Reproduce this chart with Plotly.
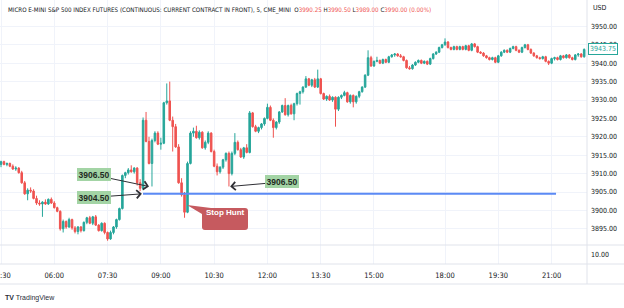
import plotly.graph_objects as go

# ---------------- data ----------------
session_a = [f"{m // 60:02d}:{m % 60:02d}" for m in range(4 * 60 + 30, 17 * 60, 5)]
session_b = [f"{m // 60:02d}:{m % 60:02d}" for m in range(18 * 60, 22 * 60, 5)]
times = session_a + session_b

opens = [
    3912.5, 3913.25, 3912.5, 3912.75, 3912, 3911.25, 3911.5, 3910.25, 3907.5, 3904.5,
    3905.5, 3905.25, 3903.25, 3902, 3901.75, 3902.25, 3901.75, 3903, 3902, 3900.75,
    3899.75, 3895, 3897, 3895.5, 3897.5, 3895.25, 3894.25, 3895.5, 3894.5, 3896.75,
    3898, 3896.5, 3898.25, 3896, 3894.5, 3896.5, 3894, 3892.25, 3894, 3895.5,
    3897.5, 3900.5, 3909.5, 3910.25, 3911, 3910.5, 3911.5, 3907.5, 3906, 3924.5,
    3918.75, 3912.75, 3919, 3921, 3918, 3918.25, 3929.25, 3929.75, 3924.5, 3922.75,
    3917.25, 3907.5, 3904.25, 3899.5, 3912.75, 3921, 3921.5, 3919.75, 3921.25, 3917,
    3918.5, 3921, 3916, 3912, 3910.5, 3911.75, 3913.75, 3915.5, 3910, 3915.5,
    3918.5, 3916.5, 3914.5, 3917, 3915.75, 3926.5, 3922.75, 3921.5, 3922.5, 3923.5,
    3925, 3928, 3924.5, 3922.5, 3924, 3926.75, 3928.5, 3926, 3928.5, 3926.25,
    3929, 3931.75, 3932.25, 3933.5, 3935.75, 3934, 3935.5, 3933.5, 3935.75, 3931.75,
    3930.25, 3931, 3930, 3930.75, 3927.5, 3930.75, 3931.25, 3932, 3929.5, 3931.25,
    3929.5, 3931, 3932.25, 3933.5, 3936.75, 3941.5, 3939.25, 3940.5, 3940.75, 3940,
    3941, 3940.25, 3941.75, 3942.25, 3942.5, 3942, 3941.75, 3940.75, 3938.75, 3938.5,
    3939.5, 3940.25, 3940.75, 3940, 3940.5, 3939.75, 3941.25, 3942.5, 3943, 3944.25,
    3945, 3945.75, 3944.25, 3943.75, 3944.5, 3943.75, 3944.5, 3943.75, 3944.75, 3943.5,
    3945.25, 3944.5, 3943, 3942.75, 3942, 3941.5, 3941, 3941.5, 3940.25, 3942,
    3943, 3943.5, 3943, 3944, 3944.5, 3943.5, 3943, 3944.25, 3945, 3943.75,
    3942.75, 3942, 3941.5, 3941.25, 3941.75, 3940.5, 3940, 3941.25, 3941.5, 3941,
    3942, 3941.5, 3942.25, 3941.5, 3941, 3942.25, 3942.5, 3941.75,
]
highs = [
    3913.5, 3913.5, 3913, 3913, 3912.5, 3912, 3911.75, 3910.75, 3908, 3906,
    3906.25, 3905.75, 3904, 3902.75, 3902.5, 3903, 3903.25, 3903.5, 3902.5, 3901,
    3900, 3897.5, 3897.25, 3898, 3897.75, 3895.75, 3895.75, 3895.75, 3897, 3898.25,
    3898.5, 3898.5, 3898.75, 3896.25, 3896.75, 3896.75, 3894.25, 3894.5, 3895.75, 3897.75,
    3900.75, 3909.75, 3910.5, 3911.5, 3912.25, 3911.75, 3911.75, 3908.5, 3925.25, 3926.75,
    3920, 3919.5, 3921.5, 3921.5, 3919.75, 3929.5, 3934.5, 3935, 3925.5, 3923.5,
    3918, 3908.75, 3905, 3913.25, 3921.5, 3922.5, 3923, 3921.75, 3921.5, 3919,
    3921.5, 3921.25, 3916.5, 3912.75, 3912, 3914, 3915.75, 3916, 3916, 3921,
    3919, 3917, 3917.25, 3918, 3927, 3926.75, 3923.25, 3922.75, 3923.75, 3925.25,
    3929, 3928.5, 3925, 3924.25, 3927, 3928.75, 3930.5, 3928.75, 3929, 3929.25,
    3932, 3932.5, 3933.75, 3936.5, 3936, 3935.75, 3936, 3938.25, 3936, 3932,
    3931.25, 3931.5, 3931, 3931, 3931, 3931.5, 3932.5, 3932.25, 3931.5, 3931.5,
    3931.25, 3932.5, 3933.75, 3937, 3943.5, 3942, 3940.75, 3941.75, 3941, 3941.25,
    3941.25, 3942, 3942.5, 3942.75, 3942.75, 3942.5, 3942, 3941, 3939.25, 3939.75,
    3940.5, 3941, 3941, 3940.75, 3940.75, 3941.5, 3942.75, 3943.25, 3944.5, 3945.25,
    3946.75, 3946, 3944.5, 3944.75, 3944.75, 3944.75, 3944.75, 3945, 3945, 3945.5,
    3945.5, 3944.75, 3943.25, 3943, 3942.25, 3941.75, 3941.75, 3941.75, 3942.25, 3943.25,
    3943.75, 3943.75, 3944.25, 3944.75, 3944.75, 3943.75, 3944.5, 3945.25, 3945.25, 3944,
    3943, 3942.25, 3941.75, 3942, 3942, 3940.75, 3941.5, 3941.75, 3941.75, 3942.25,
    3942.25, 3942.5, 3942.5, 3941.75, 3942.5, 3942.75, 3942.75, 3944,
]
lows = [
    3911.75, 3912.25, 3912, 3911.75, 3911, 3910.75, 3910, 3907.25, 3904.25, 3902.75,
    3904.75, 3903, 3901.5, 3901.25, 3898.25, 3901.5, 3901.5, 3901.75, 3900.5, 3899.5,
    3894.5, 3894, 3895, 3895.25, 3894.75, 3893.75, 3893.5, 3894, 3894.25, 3896.25,
    3896.25, 3896, 3895.75, 3894.25, 3894.25, 3893.5, 3891.75, 3892, 3893.5, 3895,
    3897.25, 3900.25, 3908.75, 3909.75, 3910.25, 3910, 3906.75, 3905.25, 3905.5, 3918.5,
    3912.5, 3906.5, 3918.5, 3917.75, 3916.5, 3918, 3928.75, 3924.25, 3916, 3917,
    3907.25, 3903.75, 3898, 3899.25, 3912.5, 3920, 3919.5, 3919.25, 3916.75, 3916.5,
    3918, 3915.75, 3911.75, 3909.5, 3910, 3911.25, 3913.25, 3906.5, 3909.5, 3915,
    3916.25, 3914.25, 3914, 3915.5, 3915.5, 3922.5, 3921.25, 3921, 3922, 3923,
    3924.75, 3924.25, 3919.75, 3922, 3923.5, 3926.5, 3925.75, 3925.5, 3926, 3924.5,
    3928.5, 3928.75, 3931.75, 3933.25, 3933.75, 3933.5, 3933.25, 3933.25, 3931.5, 3930,
    3929.75, 3929.75, 3929.5, 3922.75, 3927, 3930.25, 3931, 3929.25, 3929, 3928,
    3929, 3930.5, 3932, 3933.25, 3936.5, 3939, 3939, 3940.25, 3939.75, 3939.75,
    3940, 3940, 3941.5, 3941.75, 3941.75, 3941.5, 3940.5, 3938.5, 3938.25, 3938.25,
    3939.25, 3940, 3939.75, 3939.75, 3939.5, 3939.5, 3941, 3942.25, 3942.75, 3944,
    3944.75, 3944, 3943.5, 3943.5, 3943.5, 3943.5, 3943.5, 3943.5, 3943.25, 3943.25,
    3944.25, 3942.75, 3942.5, 3941.75, 3941.25, 3940.75, 3940.75, 3940, 3940, 3941.75,
    3942.75, 3942.75, 3942.75, 3943.75, 3943.25, 3942.75, 3942.75, 3944, 3943.5, 3942.5,
    3941.75, 3941.25, 3941, 3941, 3940.25, 3939.5, 3939.75, 3940.75, 3940.75, 3940.75,
    3941.25, 3941.25, 3941.25, 3940.75, 3940.75, 3941.75, 3941.5, 3941.5,
]
closes = [
    3913.25, 3912.5, 3912.75, 3912, 3911.25, 3911.5, 3910.25, 3907.5, 3904.5, 3905.5,
    3905.25, 3903.25, 3902, 3901.75, 3902.25, 3901.75, 3903, 3902, 3900.75, 3899.75,
    3895, 3897, 3895.5, 3897.5, 3895.25, 3894.25, 3895.5, 3894.5, 3896.75, 3898,
    3896.5, 3898.25, 3896, 3894.5, 3896.5, 3894, 3892.25, 3894, 3895.5, 3897.5,
    3900.5, 3909.5, 3910.25, 3911, 3910.5, 3911.5, 3907.5, 3906, 3924.5, 3918.75,
    3912.75, 3919, 3921, 3918, 3918.25, 3929.25, 3929.75, 3924.5, 3922.75, 3917.25,
    3907.5, 3904.25, 3899.5, 3912.75, 3921, 3921.5, 3919.75, 3921.25, 3917, 3918.5,
    3921, 3916, 3912, 3910.5, 3911.75, 3913.75, 3915.5, 3910, 3915.5, 3918.5,
    3916.5, 3914.5, 3917, 3915.75, 3926.5, 3922.75, 3921.5, 3922.5, 3923.5, 3925,
    3928, 3924.5, 3922.5, 3924, 3926.75, 3928.5, 3926, 3928.5, 3926.25, 3929,
    3931.75, 3932.25, 3933.5, 3935.75, 3934, 3935.5, 3933.5, 3935.75, 3931.75, 3930.25,
    3931, 3930, 3930.75, 3927.5, 3930.75, 3931.25, 3932, 3929.5, 3931.25, 3929.5,
    3931, 3932.25, 3933.5, 3936.75, 3941.5, 3939.25, 3940.5, 3940.75, 3940, 3941,
    3940.25, 3941.75, 3942.25, 3942.5, 3942, 3941.75, 3940.75, 3938.75, 3938.5, 3939.5,
    3940.25, 3940.75, 3940, 3940.5, 3939.75, 3941.25, 3942.5, 3943, 3944.25, 3945,
    3945.75, 3944.25, 3943.75, 3944.5, 3943.75, 3944.5, 3943.75, 3944.75, 3943.5, 3945.25,
    3944.5, 3943, 3942.75, 3942, 3941.5, 3941, 3941.5, 3940.25, 3942, 3943,
    3943.5, 3943, 3944, 3944.5, 3943.5, 3943, 3944.25, 3945, 3943.75, 3942.75,
    3942, 3941.5, 3941.25, 3941.75, 3940.5, 3940, 3941.25, 3941.5, 3941, 3942,
    3941.5, 3942.25, 3941.5, 3941, 3942.25, 3942.5, 3941.75, 3943.75,
]

time_ticks = ["04:30", "06:00", "07:30", "09:00", "10:30", "12:00", "13:30",
              "15:00", "18:00", "19:30", "21:00"]
price_ticks = [3895, 3900, 3905, 3910, 3915, 3920, 3925, 3930, 3935, 3940, 3945, 3950]
level_price = 3904.5
marked_prices = [3906.5, 3904.5, 3906.5]
last_price = 3943.75
title_text = "MICRO E-MINI S&P 500 INDEX FUTURES (CONTINUOUS: CURRENT CONTRACT IN FRONT), 5, CME_MINI"
ohlc_legend = [("O", "3990.25"), ("H", "3990.50"), ("L", "3989.00"), ("C", "3990.00")]
change_text = "(0.00%)"

# ---------------- layout helpers ----------------
W, H = 624, 308
PW, PH = 587, 284          # plot area (margins r=37, b=24)
GREEN, RED = "#26a69a", "#ef5350"
TXT = "#131722"
GRID = "#f0f3fa"
BORDER = "#e0e3eb"
NARROW = "Liberation Sans Narrow, DejaVu Sans Condensed, Arial Narrow, sans-serif"
SANS = "Liberation Sans, Arial, sans-serif"


def xp(px):
    return px / PW


def yp(py):
    return (PH - py) / PH


fig = go.Figure()
fig.add_trace(go.Candlestick(
    x=times, open=opens, high=highs, low=lows, close=closes,
    increasing=dict(line=dict(color=GREEN, width=1), fillcolor=GREEN),
    decreasing=dict(line=dict(color=RED, width=1), fillcolor=RED),
    whiskerwidth=0, showlegend=False, hoverinfo="skip",
))
# empty lower pane (indicator pane)
fig.add_trace(go.Scatter(x=[times[0]], y=[10], yaxis="y2", mode="markers",
                         marker=dict(opacity=0), showlegend=False, hoverinfo="skip"))

fig.update_layout(
    width=W, height=H,
    margin=dict(l=0, r=W - PW, t=0, b=H - PH, autoexpand=False),
    paper_bgcolor="white", plot_bgcolor="white",
    boxgap=0.25,
    xaxis=dict(
        type="category", categoryorder="array", categoryarray=times,
        range=[-0.34, 197.96], anchor="y2", rangeslider=dict(visible=False),
        tickvals=time_ticks, ticktext=time_ticks, ticks="", automargin=False,
        showgrid=True, gridcolor=GRID, gridwidth=1, zeroline=False, showline=False,
        tickfont=dict(family=NARROW, size=7.5, color=TXT), ticklabelstandoff=5,
    ),
    yaxis=dict(
        domain=[yp(245), 1], side="right", anchor="x", automargin=False,
        range=[3905 - 53 / 3.68, 3905 + 192 / 3.68],
        tickvals=price_ticks, ticktext=[f"{v:.2f}" for v in price_ticks], ticks="",
        showgrid=True, gridcolor=GRID, gridwidth=1, zeroline=False, showline=False,
        tickfont=dict(family=NARROW, size=7, color=TXT), ticklabelstandoff=3,
    ),
    yaxis2=dict(
        domain=[yp(264), yp(245)], side="right", anchor="x", range=[0, 20],
        automargin=False,
        tickvals=[10], ticktext=["10.00"], ticks="", showgrid=False, zeroline=False,
        tickfont=dict(family=NARROW, size=7, color=TXT), ticklabelstandoff=3,
    ),
)

shapes = []
# pane borders
for py in (245, 264, 284):
    shapes.append(dict(type="line", xref="paper", yref="paper", x0=0, x1=W / PW,
                       y0=yp(py), y1=yp(py), line=dict(color=BORDER, width=1)))
shapes.append(dict(type="line", xref="paper", yref="paper", x0=1, x1=1, y0=0, y1=1,
                   line=dict(color=BORDER, width=1)))
# horizontal level line
shapes.append(dict(type="line", xref="x", yref="y", x0=47.97, x1=187.5,
                   y0=level_price, y1=level_price, line=dict(color="#5b8af5", width=2)))

# Stop Hunt callout (rounded box with tail)
bx0, bx1, by0, by1, r = 202, 248, 208, 230, 3
pts = [
    ("M", bx0 + r, by0), ("L", bx1 - r, by0), ("Q", bx1, by0, bx1, by0 + r),
    ("L", bx1, by1 - r), ("Q", bx1, by1, bx1 - r, by1), ("L", bx0 + r, by1),
    ("Q", bx0, by1, bx0, by1 - r), ("L", bx0, by0 + 6), ("L", 187, 205),
    ("L", bx0 + 9, by0),
]
path = ""
for p in pts:
    cmd, coords = p[0], p[1:]
    vals = []
    for k in range(0, len(coords), 2):
        vals.append(f"{xp(coords[k]):.5f},{yp(coords[k + 1]):.5f}")
    path += cmd + " ".join(vals) + " "
path += "Z"
shapes.append(dict(type="path", xref="paper", yref="paper", path=path,
                   fillcolor="#c65a5f", line=dict(width=0)))
fig.update_layout(shapes=shapes)

ann = []
# header line
hdr = f'<span style="color:{TXT}">{title_text}</span>  '
for k, v in ohlc_legend:
    hdr += f'<span style="color:{TXT}">{k}</span><span style="color:{RED}">{v}</span> '
hdr += f'<span style="color:{RED}">{change_text}</span>'
ann.append(dict(xref="paper", yref="paper", x=xp(6), y=yp(10), xanchor="left",
                yanchor="middle", text=hdr, showarrow=False,
                font=dict(family=NARROW, size=6.2, color=TXT)))
# price labels with arrows
label_specs = [
    (50.0, marked_prices[0], -55, -11.5),
    (47.6, marked_prices[1], -48, 3.5),
    (77.4, marked_prices[2], 52, -4.5),
]
for (xi, pr, ax, ay) in label_specs:
    ann.append(dict(
        x=xi, y=pr, xref="x", yref="y", text=f"<b>{pr:.2f}</b>",
        showarrow=True, ax=ax, ay=ay, axref="pixel", ayref="pixel",
        arrowhead=4, arrowsize=1.6, arrowwidth=1, arrowcolor="#2f2f35",
        bgcolor="#a3d4a5", borderpad=1.5, borderwidth=0,
        font=dict(family=SANS, size=8.5, color="#1f2a1f"),
    ))
# Stop Hunt text
ann.append(dict(xref="paper", yref="paper", x=xp((bx0 + bx1) / 2), y=yp((by0 + by1) / 2),
                text="<b>Stop Hunt</b>", showarrow=False,
                font=dict(family=SANS, size=8, color="white")))
# last price tag
ann.append(dict(xref="paper", yref="y", x=xp(588), y=last_price, xanchor="left",
                yanchor="middle", text=f"{last_price:.2f}", showarrow=False,
                bgcolor="white", bordercolor=GREEN, borderwidth=1, borderpad=1,
                font=dict(family=NARROW, size=7, color=GREEN)))
# currency
ann.append(dict(xref="paper", yref="paper", x=xp(591), y=yp(8), xanchor="left",
                yanchor="middle", text="USD", showarrow=False,
                font=dict(family=NARROW, size=7, color=TXT)))
# footer logo
ann.append(dict(xref="paper", yref="paper", x=xp(3), y=yp(298), xanchor="left",
                yanchor="middle", text="<b>TV</b> TradingView", showarrow=False,
                font=dict(family=SANS, size=7, color="#2a2e39")))
fig.update_layout(annotations=ann)

fig.write_html("out.html")
